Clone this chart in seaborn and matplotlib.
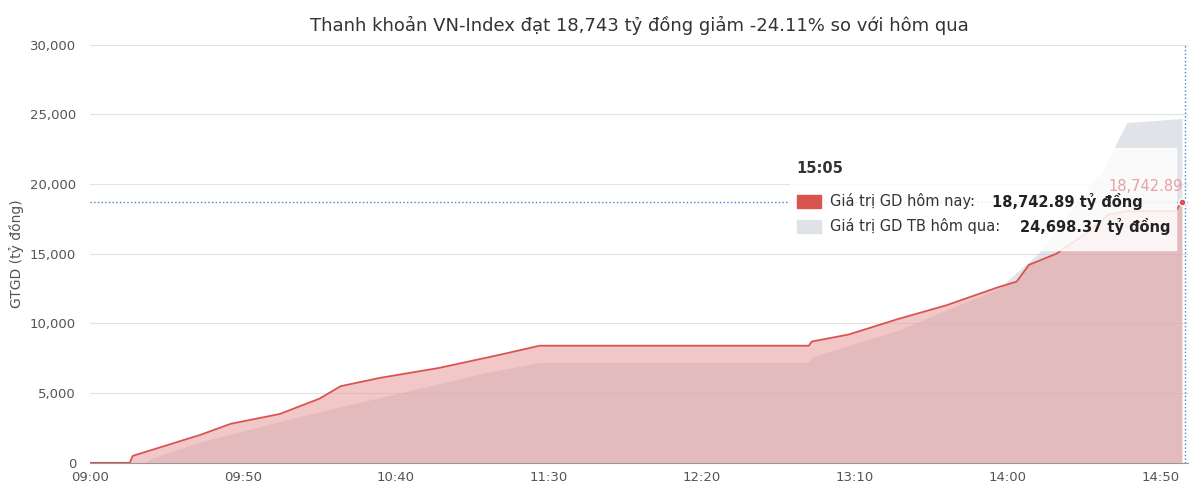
import seaborn as sns
import matplotlib.pyplot as plt
import pandas as pd

sns.set_style("white")
plt.rcParams['font.family'] = ['DejaVu Sans']

# minutes since 09:00
today_min = [0, 13, 14, 36, 46, 62, 75, 82, 95, 114, 134, 147, 235, 236, 248, 264, 280, 297, 303, 307, 316, 326, 333, 339, 355, 357]
today_val = [0, 0, 500, 2000, 2800, 3500, 4600, 5500, 6100, 6800, 7750, 8400, 8400, 8700, 9200, 10300, 11300, 12600, 13000, 14200, 15000, 16500, 17800, 18050, 18050, 18743]
yest_min = [0, 18, 20, 36, 68, 101, 130, 147, 235, 236, 264, 297, 310, 329, 330, 339, 357]
yest_val = [0, 0, 300, 1500, 3300, 5000, 6500, 7200, 7200, 7600, 9500, 12500, 15000, 20500, 20500, 24400, 24698]
tick_min = [0, 50, 100, 150, 200, 250, 300, 350]
tick_lbl = ["09:00", "09:50", "10:40", "11:30", "12:20", "13:10", "14:00", "14:50"]

today = pd.DataFrame({"m": today_min, "v": today_val})
yest = pd.DataFrame({"m": yest_min, "v": yest_val})

fig, ax = plt.subplots(figsize=(12, 4.95), dpi=100)
ax.fill_between(yest["m"], yest["v"], color="#c8ccd4", alpha=0.55, lw=0)
ax.fill_between(today["m"], today["v"], color="#e89a9c", alpha=0.55, lw=0)
sns.lineplot(data=today, x="m", y="v", ax=ax, color="#d9534f", lw=1.3)

ax.axhline(18743, color="#4a7fd0", ls=":", lw=1)
ax.axvline(358, color="#4a7fd0", ls=":", lw=1)
ax.plot([357], [18743], "o", color="#d9534f", ms=5, mec="white")

ax.set_xlim(0, 359)
ax.set_ylim(0, 30000)
ax.set_xticks(tick_min, tick_lbl)
ax.set_yticks(range(0, 30001, 5000))
ax.set_yticklabels([f"{v:,}" for v in range(0, 30001, 5000)])
ax.tick_params(axis="both", labelsize=9.5, colors="#555555", length=0)
ax.tick_params(axis="y", pad=10)
ax.tick_params(axis="x", pad=6)
ax.grid(axis="y", color="#e3e3e3")
for s in ["top", "right", "left"]:
    ax.spines[s].set_visible(False)
ax.spines["bottom"].set_color("#999999")
ax.set_xlabel("")
ax.set_ylabel("GTGD (tỷ đồng)", fontsize=10, color="#555555")
ax.set_title("Thanh khoản VN-Index đạt 18,743 tỷ đồng giảm -24.11% so với hôm qua",
             fontsize=13, color="#333333", pad=10)

# tooltip
ax.add_patch(plt.Rectangle((229, 15300), 126, 7300, color="white", alpha=0.85, zorder=4))
ax.text(345, 19500, "18,742.89", color="#e8a0a0", fontsize=10.5, ha="center", zorder=6)
ax.text(231, 20800, "15:05", fontsize=10.5, weight="bold", color="#333333", zorder=5)
ax.add_patch(plt.Rectangle((231, 18300), 8, 900, color="#d9534f", zorder=5))
ax.text(242, 18750, "Giá trị GD hôm nay:", fontsize=10.5, va="center", color="#333333", zorder=5)
ax.text(295, 18750, "18,742.89 tỷ đồng", fontsize=10.5, va="center", weight="bold", color="#222222", zorder=5)
ax.add_patch(plt.Rectangle((231, 16500), 8, 900, color="#dfe2e6", zorder=5))
ax.text(242, 16950, "Giá trị GD TB hôm qua:", fontsize=10.5, va="center", color="#333333", zorder=5)
ax.text(304, 16950, "24,698.37 tỷ đồng", fontsize=10.5, va="center", weight="bold", color="#222222", zorder=5)

plt.subplots_adjust(left=0.075, right=0.99, top=0.91, bottom=0.065)
plt.savefig("out.png", dpi=100)
